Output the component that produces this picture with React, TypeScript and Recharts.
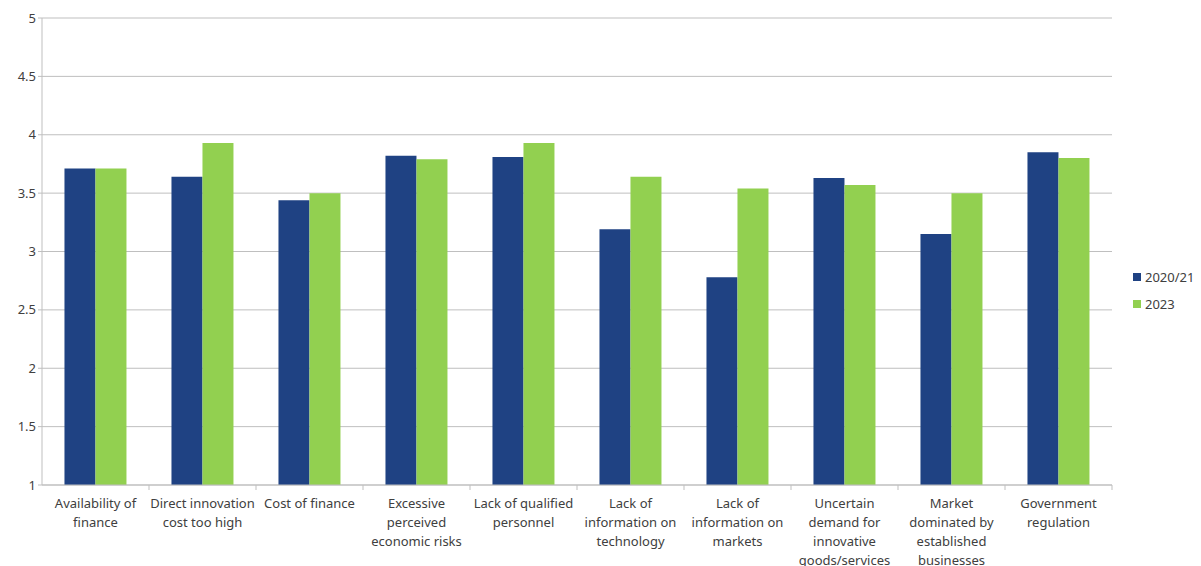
import * as React from "react";
import { BarChart, Bar, XAxis, YAxis, CartesianGrid, Legend } from "recharts";

const categories = [
  "Availability of finance",
  "Direct innovation cost too high",
  "Cost of finance",
  "Excessive perceived economic risks",
  "Lack of qualified personnel",
  "Lack of information on technology",
  "Lack of information on markets",
  "Uncertain demand for innovative goods/services",
  "Market dominated by established businesses",
  "Government regulation",
];

// how each tick label wraps in the original
const labelLines = [
  ["Availability of", "finance"],
  ["Direct innovation", "cost too high"],
  ["Cost of finance"],
  ["Excessive", "perceived", "economic risks"],
  ["Lack of qualified", "personnel"],
  ["Lack of", "information on", "technology"],
  ["Lack of", "information on", "markets"],
  ["Uncertain", "demand for", "innovative", "goods/services"],
  ["Market", "dominated by", "established", "businesses"],
  ["Government", "regulation"],
];

const values2021 = [3.71, 3.64, 3.44, 3.82, 3.81, 3.19, 2.78, 3.63, 3.15, 3.85];
const values2023 = [3.71, 3.93, 3.5, 3.79, 3.93, 3.64, 3.54, 3.57, 3.5, 3.8];

const yTicks = [1, 1.5, 2, 2.5, 3, 3.5, 4, 4.5, 5];

const DARK = "#1f4283";
const GREEN = "#92d050";
const TEXT = "#404040";
const FONT = "'Noto Sans', sans-serif";

const data = categories.map((c, i) => ({
  name: c,
  idx: i,
  a: values2021[i],
  b: values2023[i],
}));

const BAND = 107;

function CategoryTick(props: any) {
  const { x, y, payload } = props;
  const lines = labelLines[payload.value] || [];
  return (
    <g>
      <line x1={x + BAND / 2} x2={x + BAND / 2} y1={y - 8} y2={y - 3} stroke="#bfbfbf" />
      <text x={x} y={y + 15} textAnchor="middle" fill={TEXT} fontSize={13} fontFamily={FONT}>
        {lines.map((l, i) => (
          <tspan key={i} x={x} dy={i === 0 ? 0 : 19}>
            {l}
          </tspan>
        ))}
      </text>
    </g>
  );
}

function LegendBox() {
  const items = [
    { label: "2020/21", color: DARK },
    { label: "2023", color: GREEN },
  ];
  return (
    <div style={{ fontFamily: FONT, fontSize: 13, color: TEXT }}>
      {items.map((it) => (
        <div key={it.label} style={{ display: "flex", alignItems: "center", height: 27 }}>
          <span style={{ width: 8, height: 8, background: it.color, marginRight: 4, display: "inline-block" }} />
          {it.label}
        </div>
      ))}
    </div>
  );
}

export default function App() {
  return (
    <div style={{ position: "absolute", left: 0, top: 0, width: 1201, height: 566, background: "#fff" }}>
      <BarChart
        width={1201}
        height={566}
        data={data}
        margin={{ top: 18, right: 89, left: 0, bottom: 0 }}
        barCategoryGap="21%"
        barGap={0}
      >
        <CartesianGrid vertical={false} stroke="#bfbfbf" />
        <XAxis
          dataKey="idx"
          height={81}
          tickLine={false}
          axisLine={{ stroke: "#bfbfbf" }}
          tick={<CategoryTick />}
          interval={0}
        />
        <YAxis
          width={42}
          domain={[1, 5]}
          ticks={yTicks}
          axisLine={{ stroke: "#bfbfbf" }}
          tickLine={{ stroke: "#bfbfbf" }}
          tickSize={4}
          tick={{ fill: TEXT, fontSize: 13, fontFamily: FONT }}
          allowDataOverflow
        />
        <Legend
          layout="vertical"
          align="center"
          verticalAlign="middle"
          content={<LegendBox />}
          wrapperStyle={{ left: 1133, top: 263, width: 70 }}
        />
        <Bar dataKey="a" name="2020/21" fill={DARK} isAnimationActive={false} />
        <Bar dataKey="b" name="2023" fill={GREEN} isAnimationActive={false} />
      </BarChart>
    </div>
  );
}
